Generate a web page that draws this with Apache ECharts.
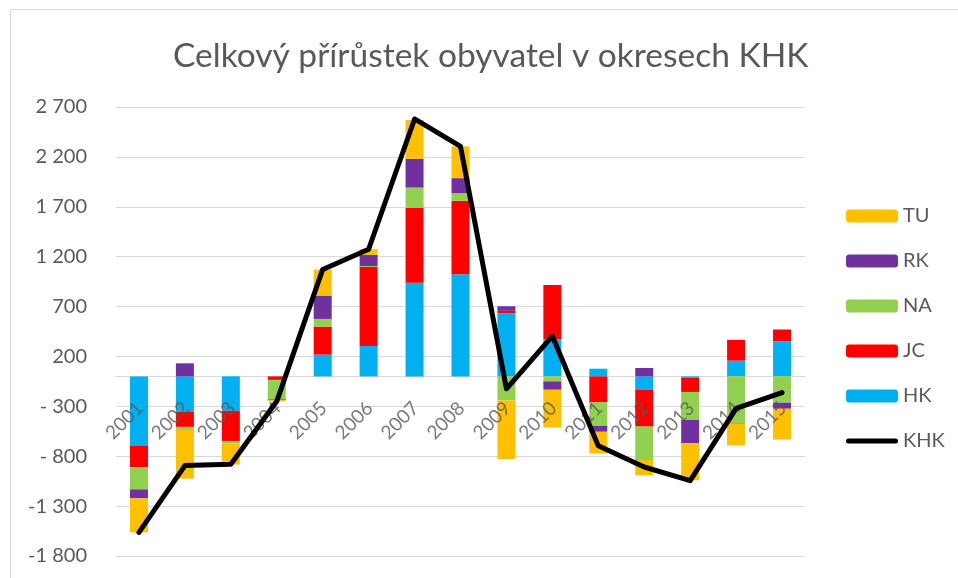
<!DOCTYPE html>
<html>
<head>
<meta charset="utf-8">
<script src="https://cdn.jsdelivr.net/npm/echarts@6/dist/echarts.min.js"></script>
<style>
  html, body { margin: 0; padding: 0; background: #fff; }
  #chart { width: 958px; height: 578px; }
</style>
</head>
<body>
<div id="chart"></div>
<script>
// data
var years = ['2001', '2002', '2003', '2004', '2005', '2006', '2007', '2008',
             '2009', '2010', '2011', '2012', '2013', '2014', '2015'];
var hk  = [-697, -352, -345, 0, 218, 305, 938, 1025, 633, 369, 77, -131, -15, 158, 352];
var jc  = [-214, -154, -302, -35, 281, 791, 750, 734, 24, 546, -261, -372, -141, 208, 118];
var na  = [-221, -30, -23, -195, 77, 10, 205, 77, -241, -50, -234, -335, -281, -469, -264];
var rk  = [-90, 131, 0, -8, 234, 111, 288, 151, 46, -84, -60, 84, -234, -5, -60];
var tu  = [-342, -489, -214, -12, 261, 57, 389, 318, -586, -378, -218, -154, -370, -218, -309];
var khk = [-1564, -894, -880, -250, 1072, 1274, 2580, 2305, -124, 403, -696, -908, -1045, -321, -163];

var yMin = -1800, yMax = 2700, yStep = 500;

var font = 'Lato, "Open Sans", sans-serif';
var grey = '#595959';

// 数字格式 "2 700", "- 300", "-1 300"
function fmt(v) {
    var a = Math.abs(v);
    var s = a >= 1000 ? Math.floor(a / 1000) + ' ' + String(a % 1000).padStart(3, '0') : String(a);
    if (v < 0) return (a < 1000 ? '- ' : '-') + s;
    return s;
}

var gridTop = 107, gridBottom = 22, H = 578;
var plotH = H - gridTop - gridBottom;
// category axis line sits on the zero line
var zeroOffset = -plotH * (0 - yMin) / (yMax - yMin);

var myChart = echarts.init(document.getElementById('chart'));

function bar(name, data, color) {
    return {
        name: name,
        type: 'bar',
        stack: 'okresy',
        barWidth: 18,
        data: data,
        itemStyle: { color: color },
        emphasis: { disabled: true }
    };
}

var option = {
    animation: false,
    textStyle: { fontFamily: font },
    graphic: [{
        type: 'rect',
        shape: { x: 10.5, y: 9.5, width: 1000, height: 600 },
        style: { fill: null, stroke: '#d9d9d9', lineWidth: 1 },
        silent: true
    }],
    title: {
        text: 'Celkový přírůstek obyvatel v okresech KHK',
        left: 168,
        top: 34,
        textStyle: { fontFamily: font, fontSize: 33.5, fontWeight: 'normal', color: grey }
    },
    legend: {
        orient: 'vertical',
        left: 846,
        top: 206,
        padding: 0,
        itemWidth: 52,
        itemHeight: 13,
        itemGap: 25,
        data: ['TU', 'RK', 'NA', 'JC', 'HK', {
            name: 'KHK',
            icon: 'path://M0,0 M2.5,4 L49.5,4 A2.5,2.5 0 0 1 49.5,9 L2.5,9 A2.5,2.5 0 0 1 2.5,4 Z M52,13'
        }],
        textStyle: { fontFamily: font, fontSize: 20, color: grey, lineHeight: 20 }
    },
    grid: { left: 116, right: 153, top: gridTop, bottom: gridBottom },
    xAxis: {
        type: 'category',
        data: years,
        offset: zeroOffset,
        axisLine: { onZero: false, lineStyle: { color: '#d9d9d9', width: 1 } },
        axisTick: { show: false },
        axisLabel: { show: false }
    },
    yAxis: {
        type: 'value',
        min: yMin,
        max: yMax,
        interval: yStep,
        axisLine: { show: false },
        axisTick: { show: false },
        splitLine: { lineStyle: { color: '#d9d9d9', width: 1 } },
        axisLabel: { margin: 29, fontSize: 20, color: grey, fontFamily: font, formatter: fmt }
    },
    series: [
        bar('HK', hk, '#00B0F0'),
        bar('JC', jc, '#FF0000'),
        bar('NA', na, '#92D050'),
        bar('RK', rk, '#7030A0'),
        bar('TU', tu, '#FFC000'),
        {
            // year labels hanging from the zero line, drawn over the bars
            name: 'roky',
            type: 'scatter',
            data: years.map(function () { return 0; }),
            symbolSize: 0,
            silent: true,
            z: 4,
            label: {
                show: true,
                position: 'inside',
                formatter: '{b}',
                rotate: 45,
                align: 'right',
                verticalAlign: 'middle',
                offset: [-19.5, 21],   // in the rotated frame
                fontSize: 19,
                color: grey,
                fontFamily: font
            }
        },
        {
            name: 'KHK',
            type: 'line',
            data: khk,
            symbol: 'none',
            z: 5,
            lineStyle: { color: '#000', width: 5, cap: 'round', join: 'round' },
            itemStyle: { color: '#000' },
            emphasis: { disabled: true }
        }
    ]
};

myChart.setOption(option);
</script>
</body>
</html>
